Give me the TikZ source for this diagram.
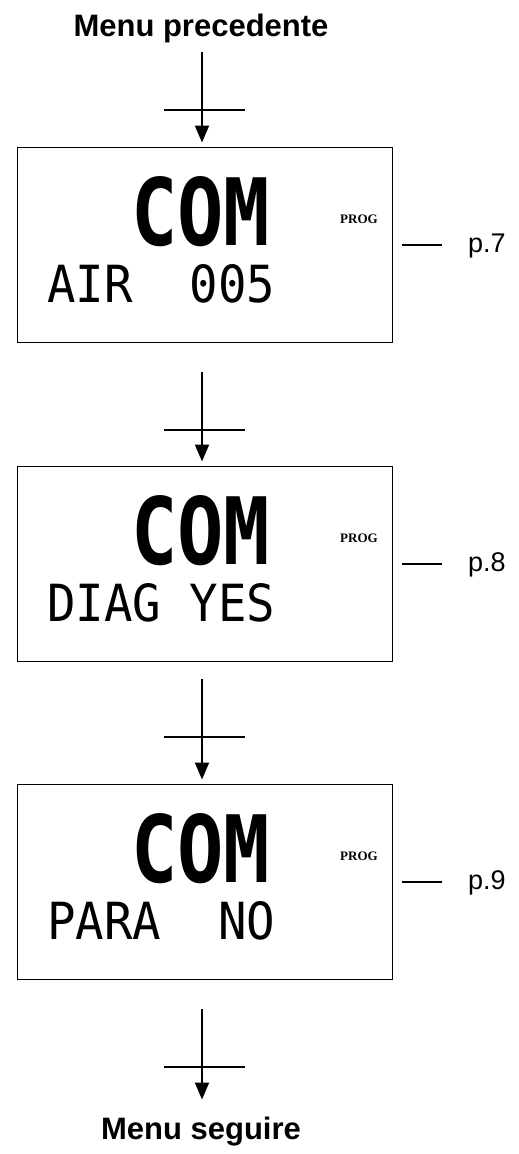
\documentclass[tikz,border=0pt]{standalone}
\usepackage{fontspec}
\setmainfont{Liberation Sans}
\newfontfamily\lcdfont{DejaVu Sans Mono}
\newfontfamily\progfont{Liberation Serif}
\usetikzlibrary{arrows.meta}
\begin{document}
\begin{tikzpicture}[x=1pt,y=-1pt,
  lcdbox/.style={draw, line width=1.4pt, minimum width=375pt, minimum height=195pt, inner sep=0pt, anchor=north west},
  flow/.style={line width=2pt, -{Triangle[length=17pt,width=14pt]}, shorten >=4.5pt},
  cross/.style={line width=2pt},
  dashline/.style={line width=2pt},
  titletext/.style={font=\fontsize{31}{36}\selectfont\bfseries, anchor=base, inner sep=0pt},
  pref/.style={font=\fontsize{27}{32}\selectfont, anchor=base west, inner sep=0pt},
  progtext/.style={font=\progfont\bfseries\fontsize{13}{15}\selectfont, anchor=center, inner sep=0pt},
  bigtext/.style={inner sep=0pt, anchor=north west},
  rowtext/.style={inner sep=0pt, anchor=north west}
]
\useasboundingbox (0,0) rectangle (519,1154);

% titles
\node[titletext] (top) at (201,36) {Menu precedente};
\node[titletext] (bot) at (201,1139) {Menu seguire};

% boxes
\foreach \i/\t/\row/\p in {1/147/{AIR~~005}/7, 2/466/{DIAG~YES}/8, 3/784/{PARA~~NO}/9}{
  \node[lcdbox] (box\i) at (17,\t) {};
  \node[bigtext] (com\i) at (131,\t+29) {\resizebox{139pt}{69pt}{\lcdfont\bfseries COM}};
  \node[rowtext] (row\i) at (47,\t+117) {\resizebox{228pt}{38pt}{\lcdfont \row}};
  \node[progtext] (prog\i) at (359,\t+72) {PROG};
  \node[pref] (pg\i) at (468,\t+105) {p.\p};
  \draw[dashline] (box\i.east) ++(9,0) -- ++(40,0);
}

% arrow start points
\coordinate (a1) at (202,52);
\coordinate (a2) at (202,372);
\coordinate (a3) at (202,679);
\coordinate (a4) at (202,1009);
\coordinate (e4) at (202,1104);

\draw[flow] (a1) -- (a1 |- box1.north);
\draw[flow] (a2) -- (a2 |- box2.north);
\draw[flow] (a3) -- (a3 |- box3.north);
\draw[flow] (a4) -- (e4);

\foreach \k in {1,2,3,4}{
  \draw[cross] (a\k) ++(-38,58) -- ++(81,0);
}
\end{tikzpicture}
\end{document}
